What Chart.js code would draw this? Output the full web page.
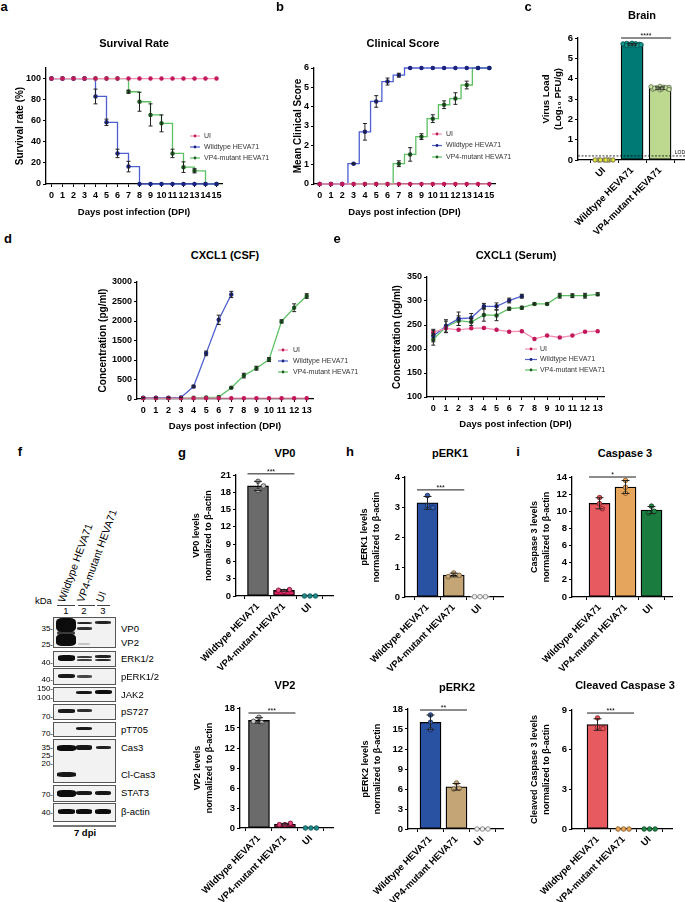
<!DOCTYPE html>
<html><head><meta charset="utf-8">
<script src="https://cdn.jsdelivr.net/npm/chart.js@4.4.0/dist/chart.umd.min.js"></script>
<style>
html,body{margin:0;padding:0;background:#fff;}
body{width:685px;height:902px;position:relative;overflow:hidden;font-family:'Liberation Sans',Arial,sans-serif;}
canvas{position:absolute;}
.t{position:absolute;white-space:nowrap;color:#000;line-height:1;}
</style></head><body>
<script>
// ---------- data ----------
const days16 = ['0','1','2','3','4','5','6','7','8','9','10','11','12','13','14','15'];
const days14 = ['0','1','2','3','4','5','6','7','8','9','10','11','12','13'];
const groupNames = ['UI', 'Wildtype HEVA71', 'VP4-mutant HEVA71'];
const barCats = ['Wildtype HEVA71', 'VP4-mutant HEVA71', 'UI'];
const brainCats = ['UI', 'Wildtype HEVA71', 'VP4-mutant HEVA71'];

// a - survival
const survUI  = [100,100,100,100,100,100,100,100,100,100,100,100,100,100,100,100];
const survWT  = [100,100,100,100,83,58.5,29,16.5,0,0,0,0,0,0,0,0];
const survWTerr = [0,0,0,0,7,3,4,5,0,0,0,0,0,0,0,0];
const survVP  = [100,100,100,100,100,100,100,87.5,78,65.5,57.5,29,16,12.5,0,0];
const survVPerr = [0,0,0,0,0,0,0,1.5,9,10.5,8,4,5,2,0,0];

// b - clinical score
const scoreUI = [0,0,0,0,0,0,0,0,0,0,0,0,0,0,0,0];
const scoreWT = [0,0,0,1.05,2.7,4.27,5.3,5.63,6,6,6,6,6,6,6,6];
const scoreWTerr = [0,0,0,0.03,0.43,0.3,0.18,0.1,0,0,0,0,0,0,0,0];
const scoreVP = [0,0,0,0,0,0,0,1.05,1.53,2.45,3.38,4.1,4.42,5.12,6,6];
const scoreVPerr = [0,0,0,0,0,0,0,0.15,0.35,0.15,0.2,0.2,0.3,0.2,0,0];

// c - brain virus load (individual animals)
const brainUI = [0,0,0,0,0,0,0,0];
const brainWT = [5.74,5.72,5.70,5.69,5.68,5.66,5.65,5.63,5.71,5.67,5.73,5.64];
const brainVP = [3.62,3.58,3.55,3.52,3.48,3.45,3.60,3.57,3.50,3.53,3.56,3.47];

// d - CXCL1 CSF
const csfUI = [20,20,20,20,20,20,20,20,20,20,20,20,20,20];
const csfWT = [30,35,35,40,320,1170,2030,2680];
const csfWTerr = [5,5,5,5,30,60,120,80];
const csfVP = [25,25,25,25,30,40,50,290,600,790,1010,1990,2340,2640];
const csfVPerr = [0,0,0,0,0,0,0,20,60,50,50,40,100,60];

// e - CXCL1 serum
const serUI = [235,243,240,243,244,240,236,237,221,228,224,228,236,237];
const serUIerr = [6,0,0,0,0,0,0,0,0,0,0,0,0,0];
const serWT = [227,248,263,265,289,289,301,310];
const serWTerr = [12,13,14,9,6,7,5,4];
const serVP = [220,246,259,256,271,270,284,286,294,294,311,311,311,314];
const serVPerr = [12,12,10,7,13,11,3,3,2,2,5,4,5,3];

// g,h,i - densitometry (WT, VP4, UI)
const vp0WT = [19.9,18.3,19.1], vp0VP = [0.8,1.1,1.0], vp0UI = [0,0,0];
const vp2WT = [16.6,15.8,16.0], vp2VP = [0.5,0.7,0.5], vp2UI = [0,0,0];
const perk1WT = [3.38,3.05,2.98], perk1VP = [0.8,0.72,0.68], perk1UI = [0.01,0.01,0.01];
const perk2WT = [17.1,16.0,14.9], perk2VP = [6.9,6.1,6.0], perk2UI = [0,0,0];
const cas3WT = [11.6,10.9,10.3], cas3VP = [13.6,12.8,12.1], cas3UI = [10.6,10.0,9.8];
const clcasWT = [8.4,7.7,7.6], clcasVP = [0,0,0], clcasUI = [0,0,0];

// ---------- helpers ----------
const FONT = "'Liberation Sans', Arial, sans-serif";
Chart.defaults.font.family = FONT;
Chart.defaults.color = '#000';
Chart.defaults.animation = false;

function mean(a) { return a.reduce((s, v) => s + v, 0) / a.length; }
function sd(a) { const m = mean(a); return Math.sqrt(a.reduce((s, v) => s + (v - m) * (v - m), 0) / (a.length - 1)); }

function addCanvas(b) {
  const c = document.createElement('canvas');
  c.width = b.w; c.height = b.h;
  c.style.left = b.x + 'px'; c.style.top = b.y + 'px';
  c.style.width = b.w + 'px'; c.style.height = b.h + 'px';
  document.body.appendChild(c);
  return c;
}
function txt(s, x, y, css) {
  const d = document.createElement('div');
  d.className = 't'; d.textContent = s;
  d.style.left = x + 'px'; d.style.top = y + 'px';
  if (css) d.style.cssText += css;
  document.body.appendChild(d);
  return d;
}
function centered(s, x, y, size, bold) {
  return txt(s, x, y, 'transform:translate(-50%,-50%);font-size:' + size + 'px;font-weight:' + (bold ? 'bold' : 'normal') + ';');
}

const errPlugin = {
  id: 'errbars',
  afterDatasetsDraw(chart) {
    const ctx = chart.ctx, ys = chart.scales.y;
    chart.data.datasets.forEach((ds, i) => {
      if (!ds.errors) return;
      const meta = chart.getDatasetMeta(i);
      const cap = ds.cap || 2;
      ctx.save();
      ctx.strokeStyle = '#222'; ctx.lineWidth = 1;
      meta.data.forEach((el, k) => {
        const e = ds.errors[k]; if (!e) return;
        const raw = ds.data[k]; const v = typeof raw === 'object' ? raw.y : raw;
        const y1 = ys.getPixelForValue(v - e), y2 = ys.getPixelForValue(v + e);
        ctx.beginPath();
        ctx.moveTo(el.x, y1); ctx.lineTo(el.x, y2);
        ctx.moveTo(el.x - cap, y1); ctx.lineTo(el.x + cap, y1);
        ctx.moveTo(el.x - cap, y2); ctx.lineTo(el.x + cap, y2);
        ctx.stroke();
      });
      ctx.restore();
    });
  }
};

const legendPlugin = {
  id: 'miniLegend',
  afterDraw(chart, args, o) {
    if (!o || o.x === undefined) return;
    const ctx = chart.ctx;
    ctx.save();
    ctx.font = '7px ' + FONT;
    ctx.textBaseline = 'middle';
    chart.data.datasets.forEach((ds, i) => {
      const y = o.y + i * o.dy;
      ctx.strokeStyle = ds.borderColor; ctx.lineWidth = 1.2;
      ctx.beginPath(); ctx.moveTo(o.x, y); ctx.lineTo(o.x + o.len, y); ctx.stroke();
      ctx.fillStyle = ds.pointBackgroundColor;
      ctx.beginPath(); ctx.arc(o.x + o.len / 2, y, 1.4, 0, Math.PI * 2); ctx.fill();
      ctx.fillStyle = '#333';
      ctx.fillText(ds.label, o.x + o.len + o.gap, y);
    });
    ctx.restore();
  }
};

const sigPlugin = {
  id: 'sig',
  afterDatasetsDraw(chart, args, o) {
    if (!o || !o.items) return;
    const ctx = chart.ctx, xs = chart.scales.x, ys = chart.scales.y;
    ctx.save();
    o.items.forEach(s => {
      const y = ys.getPixelForValue(s.y);
      const x1 = xs.getPixelForValue(s.a) - o.half, x2 = xs.getPixelForValue(s.b) + o.half;
      ctx.strokeStyle = '#000'; ctx.lineWidth = 0.9;
      ctx.beginPath(); ctx.moveTo(x1, y); ctx.lineTo(x2, y); ctx.stroke();
      ctx.fillStyle = '#000'; ctx.font = '7px ' + FONT;
      ctx.textAlign = 'center'; ctx.textBaseline = 'bottom';
      ctx.fillText(s.text, (x1 + x2) / 2, y + 1.5);
    });
    ctx.restore();
  }
};

const refPlugin = {
  id: 'refLine',
  afterDatasetsDraw(chart, args, o) {
    if (!o || o.value === undefined) return;
    const ctx = chart.ctx, a = chart.chartArea;
    const y = chart.scales.y.getPixelForValue(o.value);
    ctx.save();
    ctx.setLineDash([2, 1.5]); ctx.strokeStyle = '#000'; ctx.lineWidth = 0.8;
    ctx.beginPath(); ctx.moveTo(a.left, y); ctx.lineTo(a.right, y); ctx.stroke();
    ctx.setLineDash([]);
    ctx.font = '5px ' + FONT; ctx.fillStyle = '#000';
    ctx.textAlign = 'right'; ctx.textBaseline = 'bottom';
    ctx.fillText(o.text, a.right, y - 0.5);
    ctx.restore();
  }
};

// spread overlapping dots sideways (like a scatter dot plot)
const swarmPlugin = {
  id: 'swarm',
  afterDatasetsUpdate(chart, args, o) {
    const gap = o.gap || 5, maxOff = o.maxOff || 9;
    chart.data.datasets.forEach((ds, di) => {
      if (ds.type !== 'scatter') return;
      const pts = chart.getDatasetMeta(di).data;
      const placed = {};
      pts.forEach((el, k) => {
        const g = ds.data[k].x;
        const list = placed[g] || (placed[g] = []);
        const cands = [0];
        for (let s = gap / 2; s <= maxOff + 0.01; s += gap / 2) cands.push(s, -s);
        let best = 0, bestD = -1;
        for (const off of cands) {
          let dmin = Infinity;
          list.forEach(q => { dmin = Math.min(dmin, Math.hypot(el.x + off - q[0], el.y - q[1])); });
          if (dmin >= gap) { best = off; break; }
          if (dmin > bestD) { bestD = dmin; best = off; }
        }
        el.x += best;
        list.push([el.x, el.y]);
      });
    });
  }
};

function axisStyle() {
  return {
    grid: { drawOnChartArea: false, tickLength: 3, color: '#000' },
    border: { color: '#000', width: 1.3 }
  };
}

function lineDs(label, data, err, line, mark, stepped) {
  return { label, data, errors: err, borderColor: line, pointBackgroundColor: mark, pointBorderColor: mark,
    backgroundColor: mark, pointRadius: 1.6, borderWidth: 1.3, stepped: stepped, clip: false, tension: 0 };
}

function makeLine(b, p, o) {
  const c = addCanvas(b);
  const lhX = 9.5 * 1.2, lhY = 10 * 1.2;
  return new Chart(c, {
    type: 'line',
    data: { labels: o.labels, datasets: o.datasets },
    options: {
      responsive: false, animation: false,
      layout: { padding: { left: 0, top: p.t - b.y, right: b.x + b.w - p.r, bottom: 0 } },
      plugins: { legend: { display: false }, tooltip: { enabled: false }, miniLegend: o.legend },
      scales: {
        x: Object.assign(axisStyle(), {
          type: 'category', offset: true,
          ticks: { font: { size: 9, weight: 'bold' }, padding: 3, autoSkip: false, maxRotation: 0, color: '#000' },
          title: { display: true, text: 'Days post infection (DPI)', color: '#000',
            font: { size: 9.5, weight: 'bold', lineHeight: 1.2 },
            padding: { top: 0, bottom: b.y + b.h - lhX / 2 - o.xTitleY } },
          afterFit: s => { s.height = b.y + b.h - p.b; }
        }),
        y: Object.assign(axisStyle(), {
          type: 'linear', min: o.min, max: o.max,
          ticks: { stepSize: o.step, callback: v => String(v), font: { size: 9, weight: 'bold' }, padding: 2, color: '#000' },
          title: { display: true, text: o.yTitle, color: '#000',
            font: { size: 10, weight: 'bold', lineHeight: 1.2 },
            padding: { top: o.yTitleX - b.x - lhY / 2, bottom: 0 } },
          afterFit: s => { s.width = p.l - b.x; }
        })
      }
    },
    plugins: [errPlugin, legendPlugin]
  });
}

function makeBars(b, p, o) {
  const c = addCanvas(b);
  const means = o.groups.map(mean), sds = o.groups.map(sd);
  const fs = o.titleSize || 9, lh = fs * 1.3;
  const dots = [], fills = [], lines = [];
  o.groups.forEach((g, i) => g.forEach(v => { dots.push({ x: i, y: v }); fills.push(o.dotFill[i]); lines.push(o.dotLine[i]); }));
  const cats = o.cats;
  return new Chart(c, {
    type: 'bar',
    data: { datasets: [
      { type: 'scatter', data: dots, pointBackgroundColor: fills, pointBorderColor: lines, pointBorderWidth: 0.8,
        pointRadius: o.r || 2.3, clip: false, order: 0 },
      { type: 'bar', data: means.map((m, i) => ({ x: i, y: m })), errors: sds, cap: o.cap || 4,
        backgroundColor: o.barFill, borderColor: '#000', borderWidth: 1.3, borderSkipped: false,
        barThickness: o.bw || 21, order: 1 }
    ] },
    options: {
      responsive: false, animation: false,
      layout: { padding: { left: 0, top: p.t - b.y, right: b.x + b.w - p.r, bottom: 0 } },
      plugins: { legend: { display: false }, tooltip: { enabled: false },
        sig: { items: o.sig, half: (o.bw || 21) / 2 }, refLine: o.ref || {}, swarm: { gap: o.gap || 5.5, maxOff: o.maxOff || 9 } },
      scales: {
        x: Object.assign(axisStyle(), {
          type: 'linear', min: o.xmin, max: o.xmax, offset: false,
          afterBuildTicks: s => { s.ticks = cats.map((cName, i) => ({ value: i })); },
          ticks: { callback: v => cats[v], font: { size: 9.5, weight: 'bold' }, minRotation: 45, maxRotation: 45,
            autoSkip: false, padding: 2, color: '#000' },
          afterFit: s => { s.height = b.y + b.h - p.b; }
        }),
        y: Object.assign(axisStyle(), {
          type: 'linear', min: 0, max: o.max,
          ticks: { stepSize: o.step, font: { size: 9.5, weight: 'bold' }, padding: 2, color: '#000' },
          title: { display: true, text: o.yTitle, color: '#000',
            font: { size: fs, weight: 'bold', lineHeight: 1.3 },
            padding: { top: o.yTitleX - b.x - lh / 2, bottom: 0 } },
          afterFit: s => { s.width = p.l - b.x; }
        })
      }
    },
    plugins: [errPlugin, sigPlugin, refPlugin, swarmPlugin]
  });
}

// ---------- colours ----------
const cUI = '#f38fb3', cUIm = '#c2185b';
const cWT = '#4d5fcf', cWTm = '#1a237e';
const cVP = '#5dc062', cVPm = '#1b5e20';

// ---------- panel a ----------
makeLine({ x: 0, y: 20, w: 275, h: 205 }, { l: 46, t: 68, r: 222, b: 184 }, {
  labels: days16, min: 0, max: 110, step: 10, yTitle: 'Survival rate (%)', yTitleX: 20, xTitleY: 212,
  datasets: [
    lineDs(groupNames[0], survUI, null, cUI, cUIm, true),
    lineDs(groupNames[1], survWT, survWTerr, cWT, cWTm, true),
    lineDs(groupNames[2], survVP, survVPerr, cVP, cVPm, true)
  ],
  legend: { x: 190, y: 116, dy: 11, len: 10, gap: 4 }
});

// ---------- panel b ----------
makeLine({ x: 230, y: 20, w: 295, h: 205 }, { l: 314, t: 68, r: 495, b: 184 }, {
  labels: days16, min: 0, max: 6, step: 1, yTitle: 'Mean Clinical Score', yTitleX: 298, xTitleY: 212,
  datasets: [
    lineDs(groupNames[0], scoreUI, null, cUI, cUIm, 'middle'),
    lineDs(groupNames[1], scoreWT, scoreWTerr, cWT, cWTm, 'middle'),
    lineDs(groupNames[2], scoreVP, scoreVPerr, cVP, cVPm, 'middle')
  ],
  legend: { x: 202, y: 114, dy: 11.5, len: 10, gap: 4 }
});

// ---------- panel c ----------
makeBars({ x: 515, y: 20, w: 185, h: 235 }, { l: 578, t: 38, r: 685, b: 160 }, {
  cats: brainCats, groups: [brainUI, brainWT, brainVP], xmin: -0.93, xmax: 2.89, max: 6, step: 1,
  barFill: ['#e6e22a', '#007a74', '#bcd98f'],
  dotFill: ['#e8e43a', '#119a92', '#c8e0a0'], dotLine: ['#555', '#024a46', '#5b6b4a'],
  r: 2.2, gap: 3.6, maxOff: 10, cap: 5, bw: 22,
  yTitle: ['Virus Load', '(Log\u2081\u2080 PFU/g)'], titleSize: 9.5, yTitleX: 546,
  sig: [{ a: 1, b: 2, y: 6, text: '****' }],
  ref: { value: 0.2, text: 'LOD' }
});

// ---------- panel d ----------
makeLine({ x: 60, y: 265, w: 300, h: 170 }, { l: 137, t: 282, r: 313, b: 399 }, {
  labels: days14, min: 0, max: 3000, step: 500, yTitle: 'Concentration (pg/ml)', yTitleX: 103, xTitleY: 426,
  datasets: [
    lineDs(groupNames[0], csfUI, null, cUI, cUIm, false),
    lineDs(groupNames[1], csfWT, csfWTerr, cWT, cWTm, false),
    lineDs(groupNames[2], csfVP, csfVPerr, cVP, cVPm, false)
  ],
  legend: { x: 218, y: 85, dy: 11, len: 10, gap: 5 }
});

// ---------- panel e ----------
makeLine({ x: 375, y: 265, w: 240, h: 170 }, { l: 427, t: 277, r: 604, b: 397 }, {
  labels: days14, min: 100, max: 350, step: 50, yTitle: 'Concentration (pg/ml)', yTitleX: 397, xTitleY: 424,
  datasets: [
    lineDs(groupNames[0], serUI, serUIerr, cUI, cUIm, false),
    lineDs(groupNames[1], serWT, serWTerr, cWT, cWTm, false),
    lineDs(groupNames[2], serVP, serVPerr, cVP, cVPm, false)
  ],
  legend: { x: 150, y: 84, dy: 10.5, len: 12, gap: 3 }
});

// ---------- panels g, h, i ----------
const greyFill = ['#6b6b6b', '#dc2260', '#1f8a8a'];
const greyDot = ['#c8c8c8', '#e8457a', '#1f8a8a'];
const greyLine = ['#333', '#6a0a2a', '#0b4f4f'];
const bluFill = ['#2a52a3', '#c4a676', '#eeeeee'];
const bluDot = ['#3a62b3', '#caa97a', '#eeeeee'];
const bluLine = ['#10254d', '#6b5532', '#777'];
const redFill = ['#e65a60', '#e6a55c', '#1a7d3f'];
const redDot = ['#e8545a', '#e8a65a', '#1f8a47'];
const redLine = ['#7a2020', '#7a5020', '#0b3d1d'];

makeBars({ x: 180, y: 465, w: 160, h: 215 }, { l: 236, t: 475, r: 333, b: 596 }, {
  cats: barCats, groups: [vp0WT, vp0VP, vp0UI], xmin: -0.846, xmax: 2.885, max: 21, step: 3,
  barFill: greyFill, dotFill: greyDot, dotLine: greyLine,
  yTitle: ['VP0 levels', 'normalized to \u03b2-actin'], yTitleX: 197,
  sig: [{ a: 0, b: 1, y: 21.2, text: '***' }]
});
makeBars({ x: 180, y: 698, w: 160, h: 204 }, { l: 240, t: 708, r: 333, b: 828 }, {
  cats: barCats, groups: [vp2WT, vp2VP, vp2UI], xmin: -0.73, xmax: 2.85, max: 18, step: 3,
  barFill: greyFill, dotFill: greyDot, dotLine: greyLine,
  yTitle: ['VP2 levels', 'normalized to \u03b2-actin'], yTitleX: 198,
  sig: [{ a: 0, b: 1, y: 17.25, text: '***' }]
});
makeBars({ x: 345, y: 467, w: 165, h: 213 }, { l: 405, t: 477, r: 503, b: 597 }, {
  cats: barCats, groups: [perk1WT, perk1VP, perk1UI], xmin: -0.857, xmax: 2.876, max: 4, step: 1,
  barFill: bluFill, dotFill: bluDot, dotLine: bluLine,
  yTitle: ['pERK1 levels', 'normalized to \u03b2-actin'], yTitleX: 365,
  sig: [{ a: 0, b: 1, y: 3.57, text: '***' }]
});
makeBars({ x: 345, y: 699, w: 165, h: 203 }, { l: 408, t: 709, r: 503, b: 829 }, {
  cats: barCats, groups: [perk2WT, perk2VP, perk2UI], xmin: -0.865, xmax: 2.79, max: 18, step: 3,
  barFill: bluFill, dotFill: bluDot, dotLine: bluLine,
  yTitle: ['pERK2 levels', 'normalized to \u03b2-actin'], yTitleX: 366,
  sig: [{ a: 0, b: 1, y: 17.85, text: '**' }]
});
makeBars({ x: 515, y: 467, w: 170, h: 213 }, { l: 572, t: 477, r: 672, b: 597 }, {
  cats: barCats, groups: [cas3WT, cas3VP, cas3UI], xmin: -1.06, xmax: 2.79, max: 14, step: 2,
  barFill: redFill, dotFill: redDot, dotLine: redLine,
  yTitle: ['Caspase 3 levels', 'normalized to \u03b2-actin'], yTitleX: 535,
  sig: [{ a: 0, b: 1, y: 14, text: '*' }]
});
makeBars({ x: 515, y: 700, w: 170, h: 202 }, { l: 572, t: 710, r: 672, b: 829 }, {
  cats: barCats, groups: [clcasWT, clcasVP, clcasUI], xmin: -0.98, xmax: 2.86, max: 9, step: 3,
  barFill: redFill, dotFill: redDot, dotLine: redLine,
  yTitle: ['Cleaved Caspase 3 levels', 'normalized to \u03b2-actin'], yTitleX: 535,
  sig: [{ a: 0, b: 1, y: 8.77, text: '***' }]
});

// ---------- titles & panel letters ----------
[['Survival Rate', 134, 43], ['Clinical Score', 403, 43], ['Brain', 642, 15],
 ['CXCL1 (CSF)', 225, 255], ['CXCL1 (Serum)', 516, 255],
 ['VP0', 285, 453], ['VP2', 285, 685], ['pERK1', 450, 453], ['pERK2', 457, 687],
 ['Caspase 3', 625, 453], ['Cleaved Caspase 3', 625, 685]].forEach(t => centered(t[0], t[1], t[2], 11, true));
[['a', 4, 6], ['b', 280, 6], ['c', 528, 6], ['d', 8, 238], ['e', 337, 238],
 ['f', 20, 451], ['g', 182, 452], ['h', 350, 451], ['i', 518, 451]].forEach(t => centered(t[0], t[1], t[2], 13, true));

// ---------- panel f: western blot (image-like) ----------
const laneX = [66, 84, 103];
const blotStrips = [[617,648],[651,667],[668,685],[687,702],[704,720],[722,737],[739,783],[785,802],[803,822]];
const blotNames = [['VP0',629],['VP2',643],['ERK1/2',659],['pERK1/2',677],['JAK2',695],['pS727',712],
  ['pT705',730],['Cas3',748],['Cl-Cas3',775],['STAT3',793],['\u03b2-actin',812]];
const blotKda = [['35',629],['25',645],['40',663],['40',680],['150',689],['100',698],['70',717],['70',734],
  ['35',748],['25',756],['20',764],['70',795],['40',813]];
// lane, y, height, width, darkness
const blotBands = [
  [0,625,14,20,1],[0,640,12,20,1],[0,632.5,4,18,.8],[1,623,2.5,15,.9],[1,628.5,2.5,15,.85],[1,644,1.5,12,.2],[2,622.5,3,16,.9],
  [0,658,6,17,1],[1,656.5,2,15,.8],[1,660,2,15,.8],[2,656.5,2.5,16,.9],[2,660,2.5,16,.9],
  [0,676,4,17,.95],[1,676.5,3,15,.75],
  [1,692.5,3.5,16,.95],[2,692,4,17,1],
  [0,711,3.5,17,.95],[1,710.5,2.5,15,.85],
  [1,728.5,3.5,16,.95],
  [0,747.5,6,19,1],[1,747.5,4.5,16,.95],[2,747.5,3.5,15,.9],[0,774.5,4.5,19,.95],
  [0,793,7,19,1],[1,793,4.5,16,.95],[2,793,4.5,16,.95],
  [0,811.5,5,17,1],[1,811.5,5,16,1],[2,811.5,5,16,1]
];
(function drawBlot() {
  blotStrips.forEach(s => {
    const d = document.createElement('div');
    d.style.cssText = 'position:absolute;left:53px;width:63px;box-sizing:border-box;border:1px solid #555;background:#f2f2f2;top:' + s[0] + 'px;height:' + (s[1] - s[0]) + 'px;';
    document.body.appendChild(d);
  });
  blotBands.forEach(bd => {
    const d = document.createElement('div');
    d.style.cssText = 'position:absolute;border-radius:30%;filter:blur(0.7px);background:rgba(12,12,12,' + bd[4] + ');' +
      'left:' + (laneX[bd[0]] - bd[3] / 2) + 'px;top:' + (bd[1] - bd[2] / 2) + 'px;width:' + bd[3] + 'px;height:' + bd[2] + 'px;';
    document.body.appendChild(d);
  });
  blotNames.forEach(n => txt(n[0], 121, n[1], 'transform:translateY(-50%);font-size:9.5px;'));
  blotKda.forEach(k => txt(k[0] + '-', 0, k[1], 'width:53px;text-align:right;transform:translateY(-50%);font-size:8px;color:#000;'));
  txt('kDa', 35, 601, 'transform:translateY(-50%);font-size:9.5px;');
  const laneLabels = [['Wildtype HEVA71', 66], ['VP4-mutant HEVA71', 85], ['UI', 104]];
  laneLabels.forEach(l => {
    txt(l[0], l[1], 593, 'font-size:10.5px;transform-origin:0 100%;transform:rotate(-70deg);');
  });
  [[57, 75], [78, 95], [97, 110]].forEach(u => {
    const d = document.createElement('div');
    d.style.cssText = 'position:absolute;height:0;border-top:1px solid #444;top:605px;left:' + u[0] + 'px;width:' + (u[1] - u[0]) + 'px;';
    document.body.appendChild(d);
  });
  ['1', '2', '3'].forEach((n, i) => centered(n, laneX[i], 611, 9.5, false));
  const bl = document.createElement('div');
  bl.style.cssText = 'position:absolute;left:53px;width:63px;top:825px;height:2px;background:#777;';
  document.body.appendChild(bl);
  centered('7 dpi', 85, 833, 9.5, true);
})();
</script>
</body></html>
